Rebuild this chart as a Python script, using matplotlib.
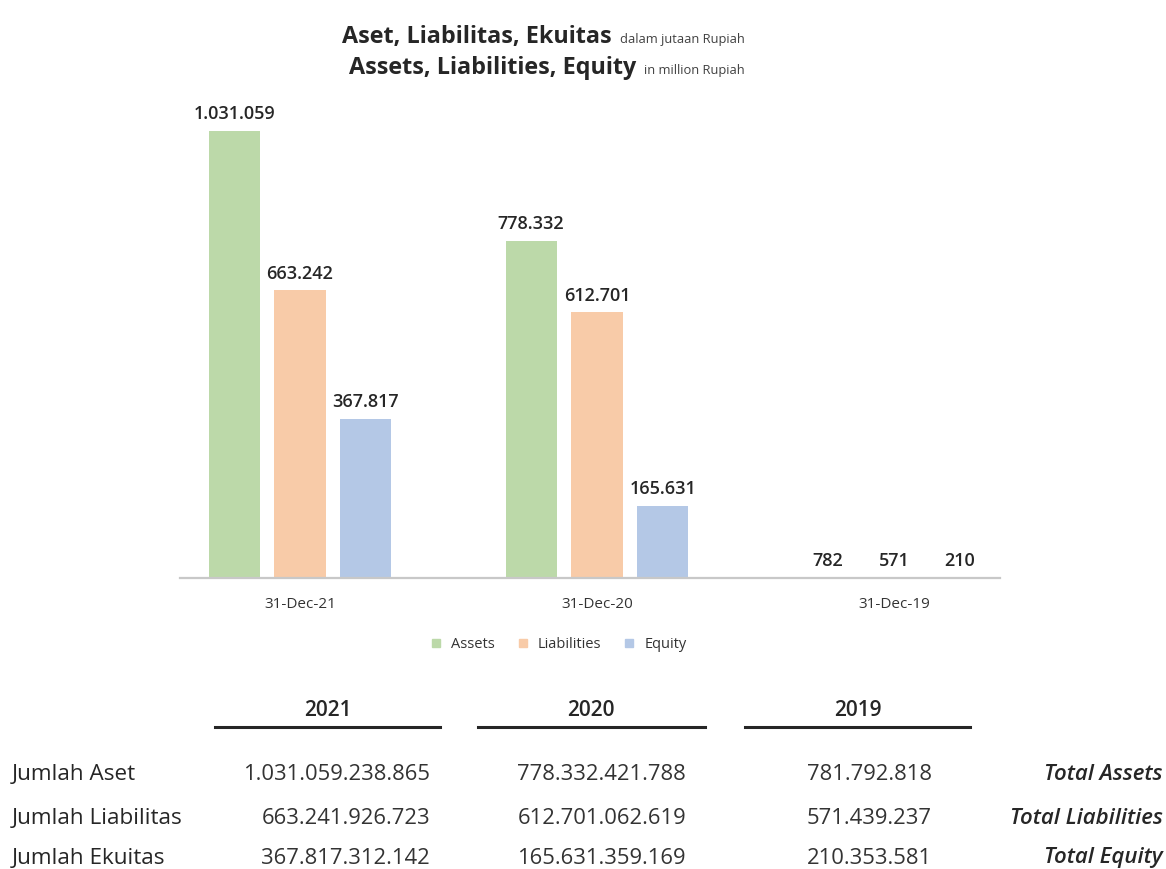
import matplotlib
matplotlib.use("Agg")
import matplotlib.pyplot as plt
from matplotlib.lines import Line2D

plt.rcParams['font.family'] = ['Open Sans', 'DejaVu Sans']

# ---- data ----
categories = ["31-Dec-21", "31-Dec-20", "31-Dec-19"]
series_names = ["Assets", "Liabilities", "Equity"]
assets = [1031059, 778332, 782]
liabilities = [663242, 612701, 571]
equity = [367817, 165631, 210]
colors = ["#bcd9a9", "#f8cba8", "#b4c8e6"]

table_years = ["2021", "2020", "2019"]
row_labels_id = ["Jumlah Aset", "Jumlah Liabilitas", "Jumlah Ekuitas"]
row_labels_en = ["Total Assets", "Total Liabilities", "Total Equity"]
table_2021 = ["1.031.059.238.865", "663.241.926.723", "367.817.312.142"]
table_2020 = ["778.332.421.788", "612.701.062.619", "165.631.359.169"]
table_2019 = ["781.792.818", "571.439.237", "210.353.581"]


def fmt(v):
    return f"{v:,}".replace(",", ".")


W, H = 1166, 869
fig = plt.figure(figsize=(W / 100, H / 100), dpi=100)


def fx(px):
    return px / W


def fy(py):
    return 1 - py / H


ax = fig.add_axes([fx(180), fy(578), fx(1000) - fx(180), fy(95) - fy(578)])

series = [assets, liabilities, equity]
width = 0.172
step = 0.222
for i, (vals, name, c) in enumerate(zip(series, series_names, colors)):
    xs = [k + (i - 1) * step for k in range(len(categories))]
    ax.bar(xs, vals, width=width, color=c, label=name, zorder=2)
    for x, v in zip(xs, vals):
        ax.text(x, v + 18000, fmt(v), ha="center", va="bottom",
                fontsize=13, fontweight="semibold", color="#262626")

ax.set_xlim(-0.404, 2.357)
ax.set_ylim(0, 1114000)
ax.set_xticks(range(len(categories)))
ax.set_xticklabels(categories, fontsize=11, color="#333333")
ax.tick_params(axis="x", length=0, pad=14)
ax.set_yticks([])
for s in ["top", "right", "left"]:
    ax.spines[s].set_visible(False)
ax.spines["bottom"].set_color("#c8c8c8")
ax.spines["bottom"].set_linewidth(1.6)

handles = [Line2D([0], [0], marker="s", linestyle="none", markersize=5.5,
                  markerfacecolor=c, markeredgecolor=c) for c in colors]
fig.legend(handles, series_names, loc="center", bbox_to_anchor=(fx(554), fy(645)),
           ncol=3, frameon=False, fontsize=10.5, handletextpad=0.05,
           columnspacing=0.9, labelcolor="#333333")

# ---- title ----
fig.text(fx(612), fy(43), "Aset, Liabilitas, Ekuitas", ha="right", va="baseline",
         fontsize=16.8, fontweight="bold", color="#262626")
fig.text(fx(620), fy(43), "dalam jutaan Rupiah", ha="left", va="baseline",
         fontsize=9.3, color="#404040")
fig.text(fx(636), fy(74), "Assets, Liabilities, Equity", ha="right", va="baseline",
         fontsize=16.8, fontweight="bold", color="#262626")
fig.text(fx(644), fy(74), "in million Rupiah", ha="left", va="baseline",
         fontsize=9.3, color="#404040")

# ---- table ----
col_centers = [328, 591, 858]
col_lines = [(215, 440), (478, 705), (745, 970)]
col_right = [430, 686, 932]
row_y = [775, 818, 858]
for yr, cx, (x0, x1) in zip(table_years, col_centers, col_lines):
    fig.text(fx(cx), fy(710), yr, ha="center", va="center",
             fontsize=15, fontweight="semibold", color="#262626")
    fig.add_artist(Line2D([fx(x0), fx(x1)], [fy(727), fy(727)],
                          color="#262626", linewidth=2.2))

cols = [table_2021, table_2020, table_2019]
for r, y in enumerate(row_y):
    fig.text(fx(12), fy(y), row_labels_id[r], ha="left", va="center",
             fontsize=16.2, fontweight="medium", color="#262626")
    for c, xr in zip(cols, col_right):
        fig.text(fx(xr), fy(y), c[r], ha="right", va="center",
                 fontsize=15.8, color="#333333")
    fig.text(fx(1163), fy(y), row_labels_en[r], ha="right", va="center",
             fontsize=16, fontweight="semibold", fontstyle="italic", color="#262626")

fig.savefig("out.png", dpi=100, facecolor="white")
